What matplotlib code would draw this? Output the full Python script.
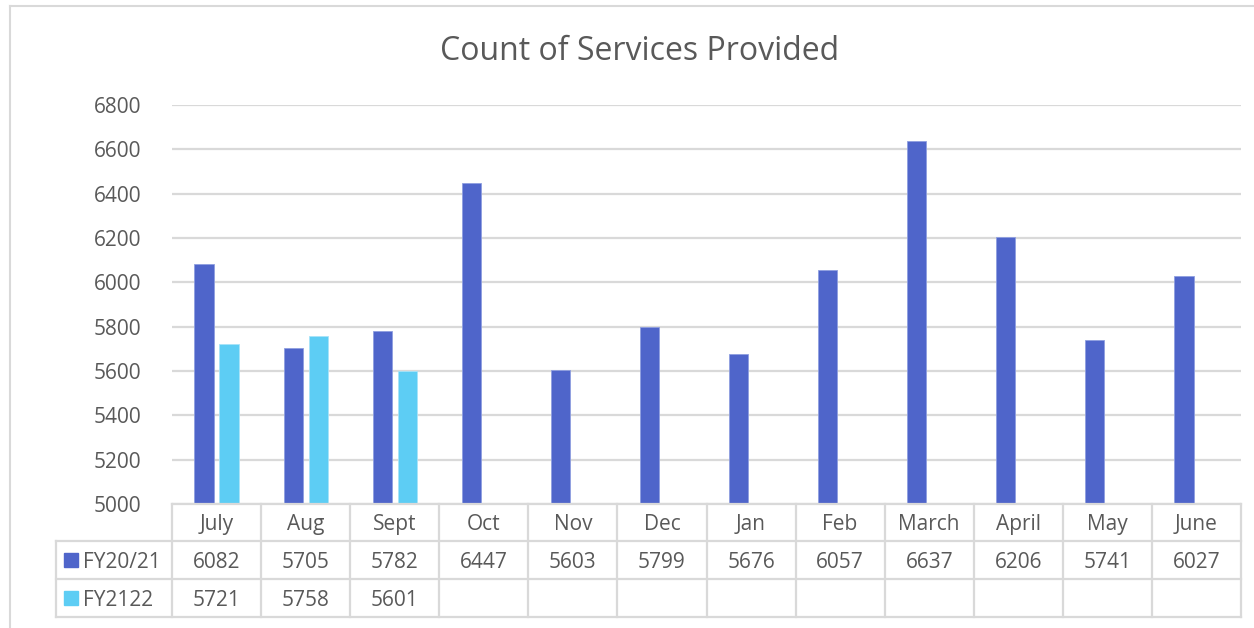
import numpy as np
import matplotlib.pyplot as plt
from matplotlib.patches import Rectangle

months = ["July", "Aug", "Sept", "Oct", "Nov", "Dec", "Jan", "Feb",
          "March", "April", "May", "June"]
fy2021 = [6082, 5705, 5782, 6447, 5603, 5799, 5676, 6057, 6637, 6206, 5741, 6027]
fy2122 = [5721, 5758, 5601]
series_names = ["FY20/21", "FY2122"]

BLUE = "#4F65CA"
CYAN = "#5DCDF4"
GRID = "#D9D9D9"
TXT = "#595959"

plt.rcParams["font.family"] = ["Open Sans", "DejaVu Sans"]

W, H = 1254, 628
fig = plt.figure(figsize=(W / 100, H / 100), dpi=100)


def fx(px):
    return px / W


def fy(py):
    return 1 - py / H


# plot area in pixels
L, R, T, B = 172, 1241, 105, 504
ax = fig.add_axes([fx(L), fy(B), fx(R) - fx(L), fy(T) - fy(B)])

x = np.arange(len(months))
bw = 0.215
off = 0.14
ax.bar(x - off, fy2021, bw, color=BLUE, edgecolor="#8F9FE0", linewidth=0.6, zorder=3)
ax.bar(np.arange(len(fy2122)) + off, fy2122, bw, color=CYAN, edgecolor="#A8E3F8",
       linewidth=0.6, zorder=3)

ax.set_xlim(-0.5, len(months) - 0.5)
ax.set_ylim(5000, 6800)
ax.set_yticks(np.arange(5000, 6801, 200))
ax.yaxis.grid(True, color=GRID, linewidth=1.6)
ax.set_axisbelow(True)
for s in ax.spines.values():
    s.set_visible(False)
ax.tick_params(axis="y", length=0, pad=22, labelsize=15, labelcolor=TXT)
ax.set_xticks([])

# title
fig.text(fx(640), fy(52), "Count of Services Provided", ha="center", va="center",
         fontsize=23, color=TXT)

# outer chart border
fig.add_artist(plt.Line2D([fx(10), fx(10)], [fy(6), fy(628)], color=GRID, lw=1.5))
fig.add_artist(plt.Line2D([fx(10), fx(1254)], [fy(6), fy(6)], color=GRID, lw=1.5))

# data table
col_w = (R - L) / len(months)
row_y = [504, 541, 579, 617]
legend_left = 56
dy = 2  # nudge text toward visual centre of each row


def hline(x0, x1, y):
    fig.add_artist(plt.Line2D([fx(x0), fx(x1)], [fy(y), fy(y)], color=GRID, lw=1.6))


def vline(xp, y0, y1):
    fig.add_artist(plt.Line2D([fx(xp), fx(xp)], [fy(y0), fy(y1)], color=GRID, lw=1.6))


hline(L, R, row_y[0])
for yy in row_y[1:]:
    hline(legend_left, R, yy)
for i in range(len(months) + 1):
    vline(L + i * col_w, row_y[0], row_y[3])
vline(legend_left, row_y[1], row_y[3])

for i, m in enumerate(months):
    cx = L + (i + 0.5) * col_w
    fig.text(fx(cx), fy((row_y[0] + row_y[1]) / 2 + dy), m, ha="center", va="center",
             fontsize=15, color=TXT)
    fig.text(fx(cx), fy((row_y[1] + row_y[2]) / 2 + dy), str(fy2021[i]), ha="center",
             va="center", fontsize=15, color=TXT)
    if i < len(fy2122):
        fig.text(fx(cx), fy((row_y[2] + row_y[3]) / 2 + dy), str(fy2122[i]),
                 ha="center", va="center", fontsize=15, color=TXT)

for r, (name, col) in enumerate(zip(series_names, [BLUE, CYAN])):
    cy = (row_y[r + 1] + row_y[r + 2]) / 2
    fig.add_artist(Rectangle((fx(64), fy(cy + 7)), fx(14), 14 / H, color=col,
                             transform=fig.transFigure))
    fig.text(fx(83), fy(cy + dy), name, ha="left", va="center", fontsize=15, color=TXT)

fig.savefig("out.png", dpi=100)
